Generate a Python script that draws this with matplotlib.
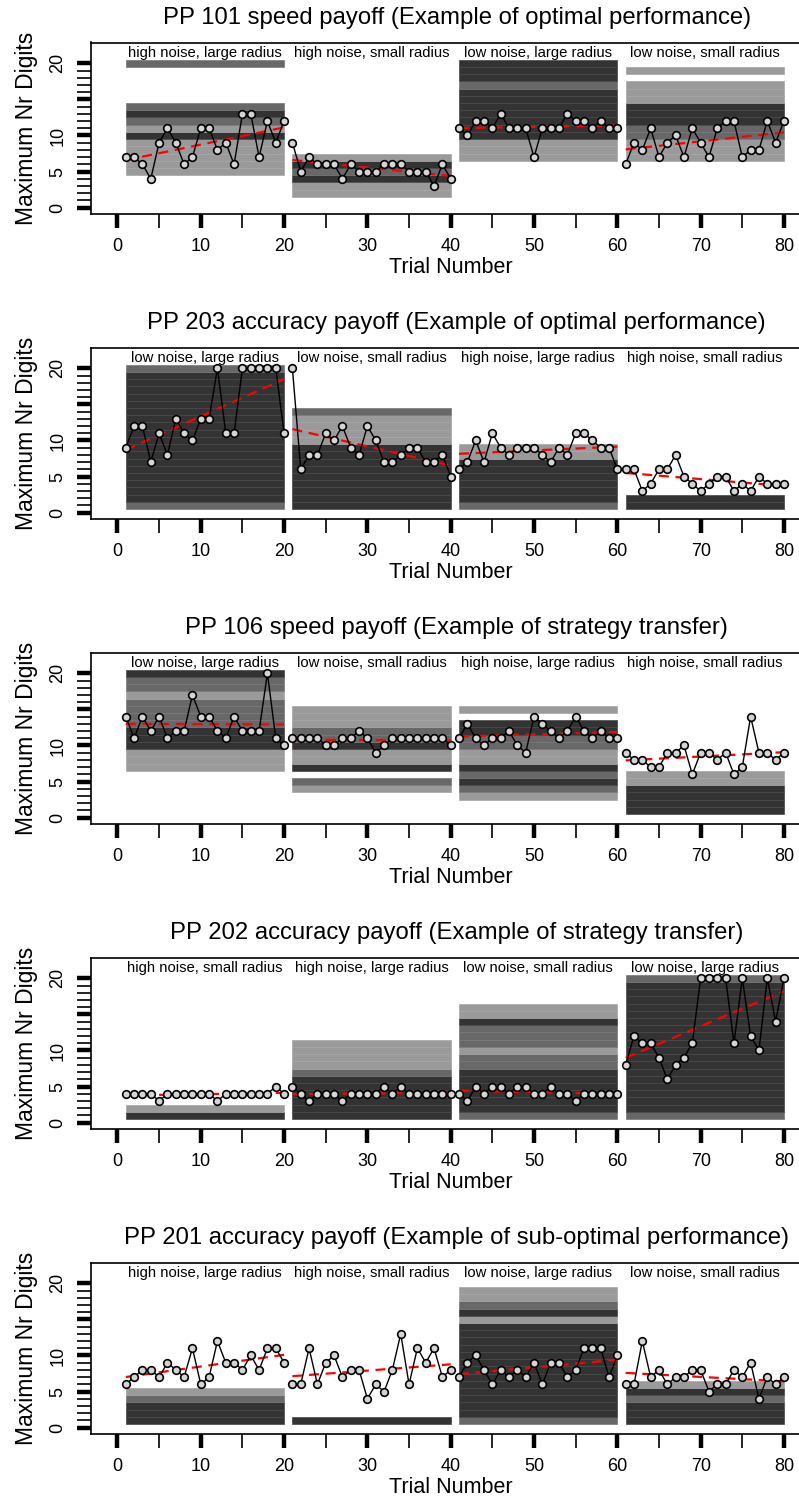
import numpy as np
import matplotlib.pyplot as plt
from matplotlib.patches import Rectangle

plt.rcParams['font.family'] = ['Liberation Sans', 'DejaVu Sans']

titles = [
    'PP 101 speed payoff (Example of optimal performance)',
    'PP 203 accuracy payoff (Example of optimal performance)',
    'PP 106 speed payoff (Example of strategy transfer)',
    'PP 202 accuracy payoff (Example of strategy transfer)',
    'PP 201 accuracy payoff (Example of sub-optimal performance)',
]

block_labels = [
    ['high noise, large radius', 'high noise, small radius', 'low noise, large radius', 'low noise, small radius'],
    ['low noise, large radius', 'low noise, small radius', 'high noise, large radius', 'high noise, small radius'],
    ['low noise, large radius', 'low noise, small radius', 'high noise, large radius', 'high noise, small radius'],
    ['high noise, small radius', 'high noise, large radius', 'low noise, small radius', 'low noise, large radius'],
    ['high noise, large radius', 'high noise, small radius', 'low noise, large radius', 'low noise, small radius'],
]

# max nr digits per trial (trials 1..80)
pp101 = [7, 7, 6, 4, 9, 11, 9, 6, 7, 11, 11, 8, 9, 6, 13, 13, 7, 12, 9, 12,
         9, 5, 7, 6, 6, 6, 4, 6, 5, 5, 5, 6, 6, 6, 5, 5, 5, 3, 6, 4,
         11, 10, 12, 12, 11, 13, 11, 11, 11, 7, 11, 11, 11, 13, 12, 12, 11, 12, 11, 11,
         6, 9, 8, 11, 7, 9, 10, 7, 11, 9, 7, 11, 12, 12, 7, 8, 8, 12, 9, 12]
pp203 = [9, 12, 12, 7, 11, 8, 13, 11, 10, 13, 13, 20, 11, 11, 20, 20, 20, 20, 20, 11,
         20, 6, 8, 8, 11, 10, 12, 9, 8, 12, 10, 7, 7, 8, 9, 9, 7, 7, 8, 5,
         6, 7, 10, 7, 11, 9, 8, 9, 9, 9, 8, 7, 9, 8, 11, 11, 10, 9, 9, 6,
         6, 6, 3, 4, 6, 6, 8, 5, 4, 3, 4, 5, 5, 3, 4, 3, 5, 4, 4, 4]
pp106 = [14, 11, 14, 12, 14, 11, 12, 12, 17, 14, 14, 12, 11, 14, 12, 12, 12, 20, 11, 10,
         11, 11, 11, 11, 10, 10, 11, 11, 12, 11, 9, 10, 11, 11, 11, 11, 11, 11, 11, 10,
         11, 13, 11, 10, 11, 11, 12, 10, 9, 14, 13, 12, 11, 12, 14, 12, 11, 12, 11, 11,
         9, 8, 8, 7, 7, 9, 9, 10, 6, 9, 9, 8, 9, 6, 7, 14, 9, 9, 8, 9]
pp202 = [4, 4, 4, 4, 3, 4, 4, 4, 4, 4, 4, 3, 4, 4, 4, 4, 4, 4, 5, 4,
         5, 4, 3, 4, 4, 4, 3, 4, 4, 4, 4, 5, 4, 5, 4, 4, 4, 4, 4, 4,
         4, 3, 5, 4, 5, 5, 4, 5, 5, 4, 4, 5, 4, 4, 3, 4, 4, 4, 4, 4,
         8, 12, 11, 11, 9, 6, 8, 9, 11, 20, 20, 20, 20, 11, 20, 12, 10, 20, 14, 20]
pp201 = [6, 7, 8, 8, 7, 9, 8, 7, 11, 6, 7, 12, 9, 9, 8, 10, 8, 11, 11, 9,
         6, 6, 11, 6, 9, 10, 7, 8, 8, 4, 6, 5, 8, 13, 6, 11, 9, 11, 7, 8,
         7, 9, 10, 8, 6, 8, 7, 8, 7, 9, 6, 9, 9, 7, 8, 11, 11, 11, 7, 10,
         6, 6, 12, 7, 8, 6, 7, 7, 8, 8, 5, 6, 6, 8, 7, 9, 4, 7, 6, 7]
series = [pp101, pp203, pp106, pp202, pp201]

# background shading per digit level 1..20 for each block ('.' = none, d/m/l = dark/mid/light)
shade101 = ['....llllldlmdm.....m', '.lldmdl.............',
            '......llldddddddmddd', '......lllmmdddlll.l.']
shade203 = ['mddddddddddddddddddm', 'dddddddddllllm......',
            'mddddddll...........', 'dd..................']
shade106 = ['......llldddmmmmlmmd', '...lm.dlldmmlll.....',
            '..lmdmdllmmdd.l.....', 'ddddll..............']
shade202 = ['dl..................', 'ddddddmllll.........',
            'mddddddmmlmmmdll....', 'mddddddddddddddddddm']
shade201 = ['dddml...............', 'd...................',
            'mdddddddddddddldmll.', 'dddmdl..............']
shades = [shade101, shade203, shade106, shade202, shade201]

block_starts = [1, 21, 41, 61]
block_len = 20

fill = {'d': '#333333', 'm': '#686868', 'l': '#9a9a9a'}
edge = {'d': '#474747', 'm': '#777777', 'l': '#a6a6a6'}

W, H = 799, 1496
fig = plt.figure(figsize=(W / 100, H / 100), dpi=100)

ax_left, ax_w, ax_h = 90.8, 719.8, 171.5
for i in range(5):
    top = 42.5 + 305 * i
    ax = fig.add_axes([ax_left / W, 1 - (top + ax_h) / H, ax_w / W, ax_h / H])
    y = np.array(series[i])
    trials = np.arange(1, 81)
    for b, s in enumerate(block_starts):
        code = shades[i][b]
        for lev in range(1, 21):
            c = code[lev - 1]
            if c == '.':
                continue
            ax.add_patch(Rectangle((s, lev - 0.5), block_len - 1, 1, facecolor=fill[c],
                                   edgecolor=edge[c], lw=0.5, zorder=1))
        xs = trials[s - 1:s - 1 + block_len]
        ys = y[s - 1:s - 1 + block_len]
        k, c0 = np.polyfit(xs, ys, 1)
        ax.plot([xs[0], xs[-1]], [c0 + k * xs[0], c0 + k * xs[-1]], color='red',
                lw=1.6, dashes=(4.5, 3), zorder=2)
        ax.plot(xs, ys, color='black', lw=1.0, marker='o', ms=5.5, mfc='#d4d4d4',
                mec='black', mew=1.2, zorder=3)
        ax.text(s + 9.5, 21.45, block_labels[i][b], ha='center', va='center', fontsize=10.7)

    ax.set_xlim(-3.2, 83.2)
    ax.set_ylim(-0.88, 22.88)
    ax.set_xticks(range(0, 81, 10))
    ax.set_xticks(range(5, 80, 10), minor=True)
    ax.set_yticks(range(0, 21, 5))
    ax.set_yticks(range(0, 21), minor=True)
    ax.tick_params(which='major', length=10, width=3.2, labelsize=13, pad=7.5)
    ax.tick_params(which='minor', length=10, width=1.2)
    ax.set_yticklabels(['0', '5', '10', '', '20'], rotation=90, va='center')
    for sp in ax.spines.values():
        sp.set_linewidth(1.2)
    ax.set_xlabel('Trial Number', fontsize=15.5)
    ax.xaxis.set_label_coords(0.5, -59 / ax_h)
    ax.xaxis.label.set_va('baseline')
    ax.set_ylabel('Maximum Nr Digits', fontsize=16.5)
    ax.yaxis.set_label_coords(-0.09, 0.5)
    ax.yaxis.label.set_va('center')
    ax.text(0.5 + 6 / ax_w, 1 + 24.5 / ax_h, titles[i], transform=ax.transAxes, ha='center',
            va='center', fontsize=17.2)

fig.savefig('out.png', dpi=100)
